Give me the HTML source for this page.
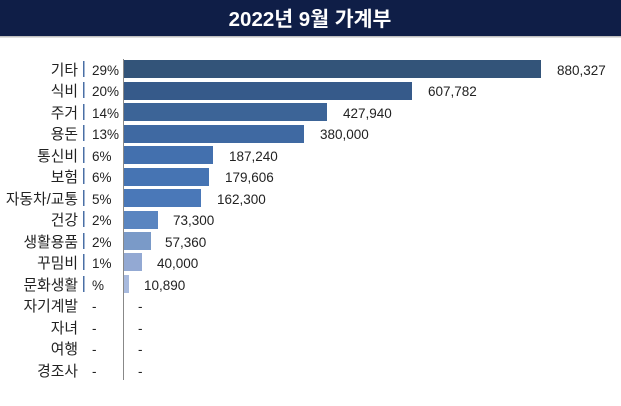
<!DOCTYPE html>
<html><head><meta charset="utf-8"><style>
body{margin:0;width:621px;height:401px;background:#fff;overflow:hidden;font-family:"Liberation Sans","Noto Sans CJK KR",sans-serif;}
.k{font-size:14.8px}
</style></head><body>
<svg width="621" height="401" xmlns="http://www.w3.org/2000/svg" font-family="Liberation Sans, Noto Sans CJK KR, sans-serif">
<rect x="0" y="0" width="621" height="36" fill="#0f1e47"/>
<rect x="0" y="36" width="621" height="1.5" fill="#bfbfbf"/>
<text x="310" y="26" text-anchor="middle" fill="#fff" font-size="20.5" font-weight="bold">2022년 9월 가계부</text>
<line x1="123.5" y1="59" x2="123.5" y2="380" stroke="#888" stroke-width="1"/>
<g font-size="13.5" fill="#222">
<text class="k" x="78" y="75" text-anchor="end">기타</text><text x="92" y="75">29%</text><rect x="124" y="60" width="417" height="18" fill="#335479"/><text x="557" y="75">880,327</text><rect x="83" y="61" width="1.5" height="16" fill="#4a6fa5"/>
<text class="k" x="78" y="96" text-anchor="end">식비</text><text x="92" y="96">20%</text><rect x="124" y="82" width="288" height="18" fill="#365a8a"/><text x="428" y="96">607,782</text><rect x="83" y="82" width="1.5" height="16" fill="#4a6fa5"/>
<text class="k" x="78" y="118" text-anchor="end">주거</text><text x="92" y="118">14%</text><rect x="124" y="103" width="203" height="18" fill="#3c6497"/><text x="343" y="118">427,940</text><rect x="83" y="104" width="1.5" height="16" fill="#4a6fa5"/>
<text class="k" x="78" y="139" text-anchor="end">용돈</text><text x="92" y="139">13%</text><rect x="124" y="125" width="180" height="18" fill="#3f69a2"/><text x="320" y="139">380,000</text><rect x="83" y="125" width="1.5" height="16" fill="#4a6fa5"/>
<text class="k" x="78" y="161" text-anchor="end">통신비</text><text x="92" y="161">6%</text><rect x="124" y="146" width="89" height="18" fill="#4370ae"/><text x="229" y="161">187,240</text><rect x="83" y="147" width="1.5" height="16" fill="#4a6fa5"/>
<text class="k" x="78" y="182" text-anchor="end">보험</text><text x="92" y="182">6%</text><rect x="124" y="168" width="85" height="18" fill="#4674b3"/><text x="225" y="182">179,606</text><rect x="83" y="168" width="1.5" height="16" fill="#4a6fa5"/>
<text class="k" x="78" y="204" text-anchor="end">자동차/교통</text><text x="92" y="204">5%</text><rect x="124" y="189" width="77" height="18" fill="#4a78b8"/><text x="217" y="204">162,300</text><rect x="83" y="190" width="1.5" height="16" fill="#4a6fa5"/>
<text class="k" x="78" y="225" text-anchor="end">건강</text><text x="92" y="225">2%</text><rect x="124" y="211" width="34" height="18" fill="#5a85c0"/><text x="173" y="225">73,300</text><rect x="83" y="211" width="1.5" height="16" fill="#4a6fa5"/>
<text class="k" x="78" y="247" text-anchor="end">생활용품</text><text x="92" y="247">2%</text><rect x="124" y="232" width="27" height="18" fill="#7a9ac8"/><text x="165" y="247">57,360</text><rect x="83" y="233" width="1.5" height="16" fill="#4a6fa5"/>
<text class="k" x="78" y="268" text-anchor="end">꾸밈비</text><text x="92" y="268">1%</text><rect x="124" y="253" width="18" height="18" fill="#93a9d3"/><text x="157" y="268">40,000</text><rect x="83" y="254" width="1.5" height="16" fill="#4a6fa5"/>
<text class="k" x="78" y="290" text-anchor="end">문화생활</text><text x="92" y="290">%</text><rect x="124" y="275" width="5" height="18" fill="#a8bade"/><text x="144" y="290">10,890</text><rect x="83" y="276" width="1.5" height="16" fill="#4a6fa5"/>
<text class="k" x="78" y="311" text-anchor="end">자기계발</text><text x="92" y="311">-</text><text x="138" y="311">-</text>
<text class="k" x="78" y="333" text-anchor="end">자녀</text><text x="92" y="333">-</text><text x="138" y="333">-</text>
<text class="k" x="78" y="354" text-anchor="end">여행</text><text x="92" y="354">-</text><text x="138" y="354">-</text>
<text class="k" x="78" y="376" text-anchor="end">경조사</text><text x="92" y="376">-</text><text x="138" y="376">-</text>
</g>
</svg>
</body></html>
